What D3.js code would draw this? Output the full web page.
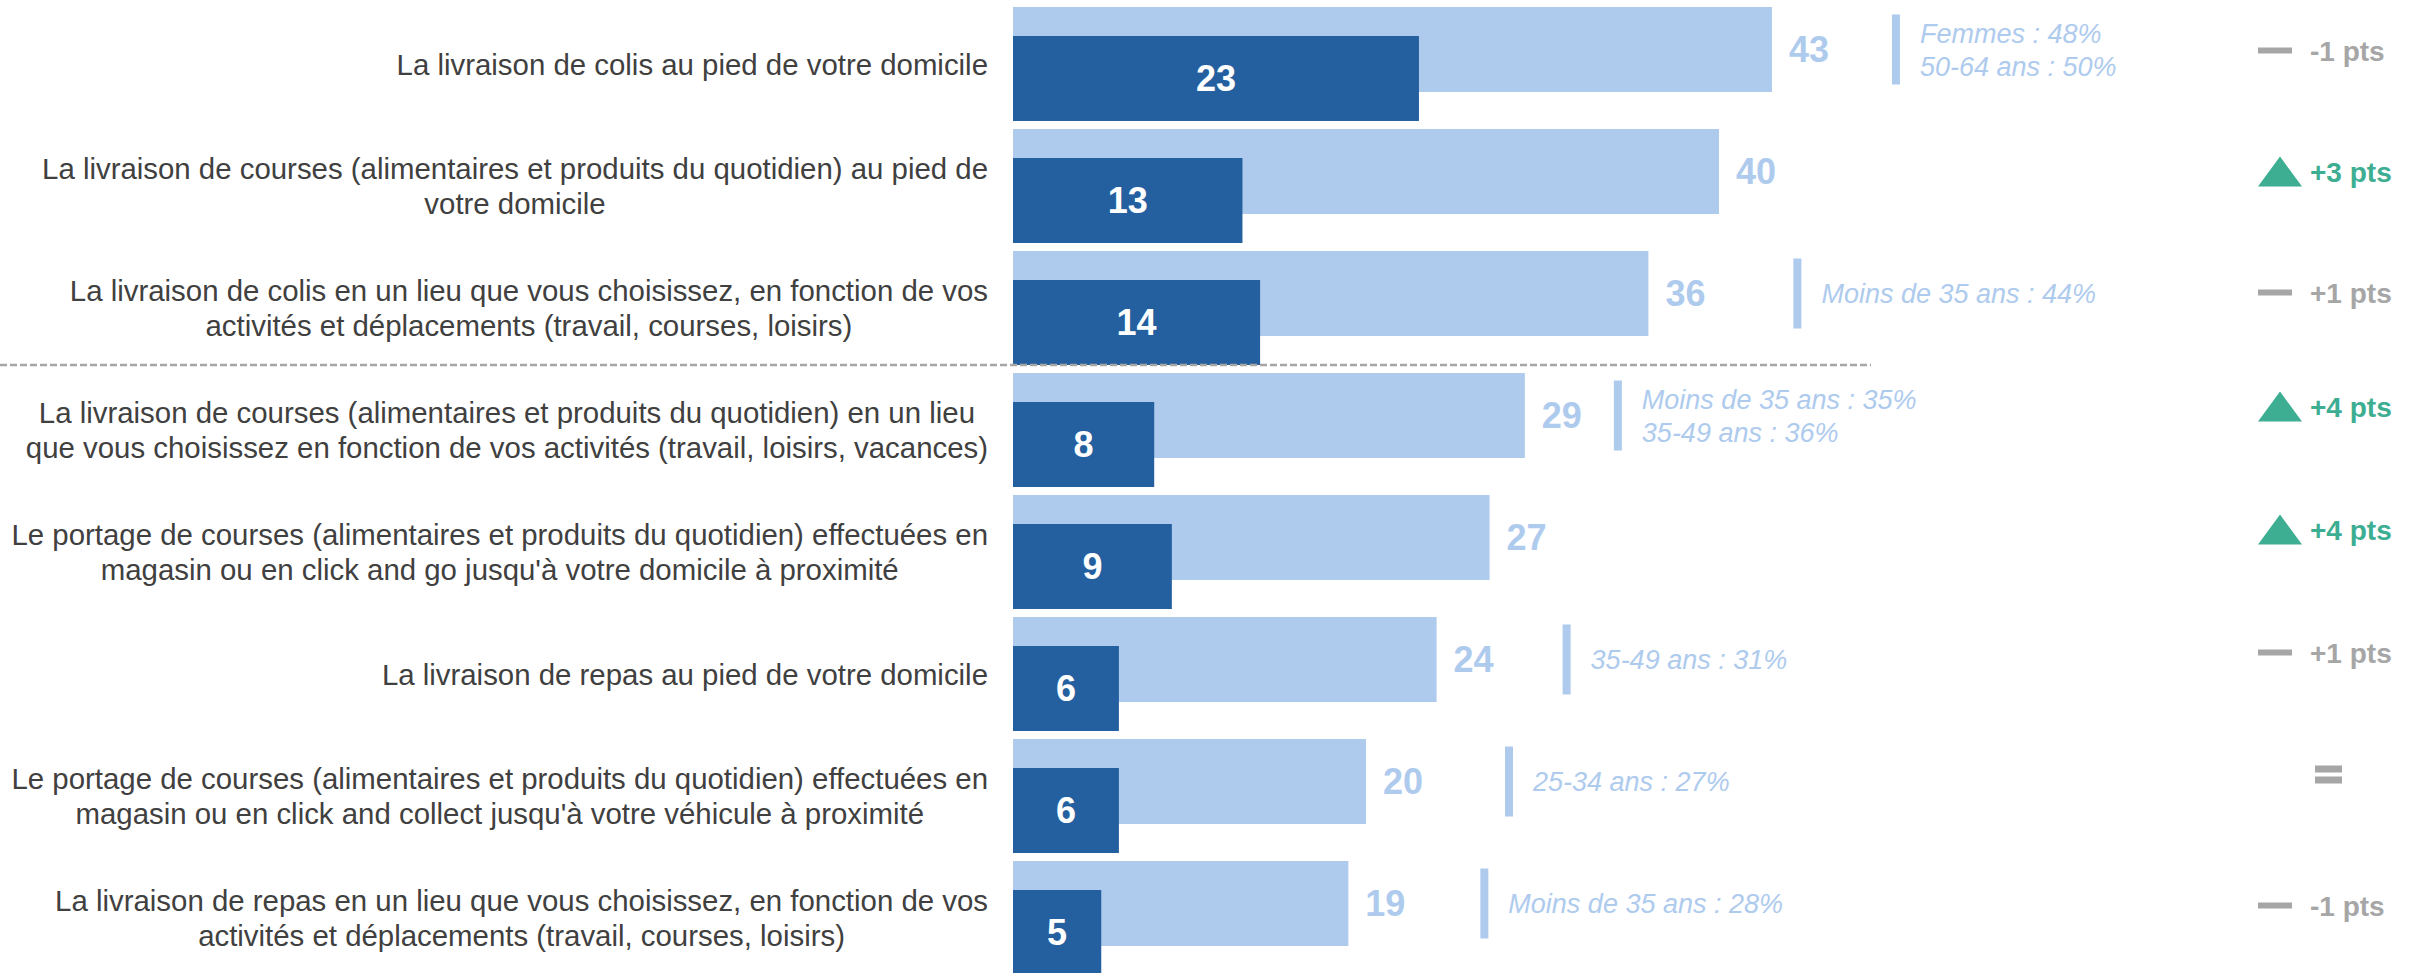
<!DOCTYPE html>
<html>
<head>
  <meta charset="utf-8">
  <title>Services de livraison</title>
  <script src="https://d3js.org/d3.v7.min.js"></script>
  <style>
    body { margin: 0; background: #fff; }
    svg { display: block; font-family: "Liberation Sans", Arial, sans-serif; }
    .cat-label { fill: #404040; font-size: 29.4px; }
    .val-total { fill: #aecbee; font-size: 36px; font-weight: bold; }
    .val-first { fill: #fff; font-size: 36px; font-weight: bold; }
    .note { fill: #aecbee; font-size: 27px; font-style: italic; }
    .delta { font-size: 28px; font-weight: bold; }
  </style>
</head>
<body>
  <svg id="chart"></svg>

  <script>
    // Data
    const categories = [
      "La livraison de colis au pied de votre domicile",
      "La livraison de courses (alimentaires et produits du quotidien) au pied de\nvotre domicile",
      "La livraison de colis en un lieu que vous choisissez, en fonction de vos\nactivités et déplacements (travail, courses, loisirs)",
      "La livraison de courses (alimentaires et produits du quotidien) en un lieu\nque vous choisissez en fonction de vos activités (travail, loisirs, vacances)",
      "Le portage de courses (alimentaires et produits du quotidien) effectuées en\nmagasin ou en click and go jusqu'à votre domicile à proximité",
      "La livraison de repas au pied de votre domicile",
      "Le portage de courses (alimentaires et produits du quotidien) effectuées en\nmagasin ou en click and collect jusqu'à votre véhicule à proximité",
      "La livraison de repas en un lieu que vous choisissez, en fonction de vos\nactivités et déplacements (travail, courses, loisirs)"
    ];
    const totalValues = [43, 40, 36, 29, 27, 24, 20, 19];
    const firstValues = [23, 13, 14, 8, 9, 6, 6, 5];
    const subgroupNotes = [
      ["Femmes : 48%", "50-64 ans : 50%"],
      [],
      ["Moins de 35 ans : 44%"],
      ["Moins de 35 ans : 35%", "35-49 ans : 36%"],
      [],
      ["35-49 ans : 31%"],
      ["25-34 ans : 27%"],
      ["Moins de 35 ans : 28%"]
    ];
    const deltas = [-1, 3, 1, 4, 4, 1, 0, -1];
    const deltaSignificant = [false, true, false, true, true, false, false, false];

    // Layout
    const width = 2412, height = 973;
    const labelRight = 988;
    const lightH = 85, darkOffset = 29, darkH = 85;
    const noteGap = [120, 0, 145, 89, 0, 126, 139, 132];
    const deltaDy = [1, 0, -1, -9, -8, -7, -7, 2];
    const deltaTextX = 2310;

    const svg = d3.select("#chart").attr("width", width).attr("height", height);

    const x = d3.scaleLinear().domain([0, 100]).range([1013, 1013 + 1765]);
    const y = d3.scaleBand().domain(d3.range(categories.length))
      .range([7, 7 + 122 * categories.length]).padding(0);

    const rows = svg.selectAll("g.row")
      .data(categories.map((c, i) => ({ i, c })))
      .join("g")
      .attr("class", "row")
      .attr("transform", d => `translate(0,${y(d.i)})`);

    // light bars (total)
    rows.append("rect")
      .attr("x", x(0))
      .attr("y", 0)
      .attr("width", d => x(totalValues[d.i]) - x(0))
      .attr("height", lightH)
      .attr("fill", "#aecbee");

    // dark bars (first)
    rows.append("rect")
      .attr("x", x(0))
      .attr("y", darkOffset)
      .attr("width", d => x(firstValues[d.i]) - x(0))
      .attr("height", darkH)
      .attr("fill", "#245f9f");

    rows.append("text")
      .attr("class", "val-total")
      .attr("x", d => x(totalValues[d.i]) + 17)
      .attr("y", lightH / 2)
      .attr("dy", "0.36em")
      .text(d => totalValues[d.i]);

    rows.append("text")
      .attr("class", "val-first")
      .attr("text-anchor", "middle")
      .attr("x", d => (x(0) + x(firstValues[d.i])) / 2)
      .attr("y", darkOffset + darkH / 2)
      .attr("dy", "0.36em")
      .text(d => firstValues[d.i]);

    // category labels: centered block, right edge at labelRight
    const rowMid = (darkOffset + darkH) / 2;
    rows.each(function(d) {
      const lines = d.c.split("\n");
      const t = d3.select(this).append("text")
        .attr("class", "cat-label")
        .attr("text-anchor", "middle");
      const spans = lines.map((l, k) => t.append("tspan")
        .attr("y", rowMid + (k - (lines.length - 1) / 2) * 35)
        .attr("dy", "0.36em")
        .text(l));
      const maxW = d3.max(spans, s => s.node().getComputedTextLength());
      spans.forEach(s => s.attr("x", labelRight - maxW / 2));
    });

    // subgroup notes
    rows.filter(d => subgroupNotes[d.i].length > 0).each(function(d) {
      const g = d3.select(this);
      const nx = x(totalValues[d.i]) + noteGap[d.i];
      const cy = lightH / 2;
      g.append("rect")
        .attr("x", nx).attr("y", cy - 35)
        .attr("width", 8).attr("height", 70)
        .attr("fill", "#aecbee");
      const notes = subgroupNotes[d.i];
      g.append("text").attr("class", "note")
        .selectAll("tspan")
        .data(notes)
        .join("tspan")
        .attr("x", nx + 28)
        .attr("y", (n, k) => cy + (k - (notes.length - 1) / 2) * 33)
        .attr("dy", "0.36em")
        .text(n => n);
    });

    // evolution indicators
    rows.each(function(d) {
      const g = d3.select(this);
      const cy = lightH / 2 + deltaDy[d.i];
      const v = deltas[d.i];
      if (v === 0) {
        g.append("rect").attr("x", 2315).attr("y", cy - 9).attr("width", 27).attr("height", 7).attr("fill", "#a6a6a6");
        g.append("rect").attr("x", 2315).attr("y", cy + 2).attr("width", 27).attr("height", 7).attr("fill", "#a6a6a6");
        return;
      }
      const col = deltaSignificant[d.i] ? "#3dae92" : "#a6a6a6";
      if (deltaSignificant[d.i]) {
        g.append("path")
          .attr("d", `M${deltaTextX - 52},${cy + 15}L${deltaTextX - 30},${cy - 15}L${deltaTextX - 8},${cy + 15}Z`)
          .attr("fill", col);
      } else {
        g.append("rect")
          .attr("x", deltaTextX - 52).attr("y", cy - 3)
          .attr("width", 34).attr("height", 6)
          .attr("fill", col);
      }
      g.append("text")
        .attr("class", "delta")
        .attr("x", deltaTextX)
        .attr("y", cy)
        .attr("dy", "0.36em")
        .attr("fill", col)
        .text((v > 0 ? "+" : "") + v + " pts");
    });

    // separator between the first three and the rest
    const sepY = y(3) - 8;
    svg.append("line")
      .attr("x1", 0).attr("x2", 1871)
      .attr("y1", sepY).attr("y2", sepY)
      .attr("stroke", "#a6a6a6")
      .attr("stroke-width", 2.5)
      .attr("stroke-dasharray", "7,3");
  </script>
</body>
</html>
